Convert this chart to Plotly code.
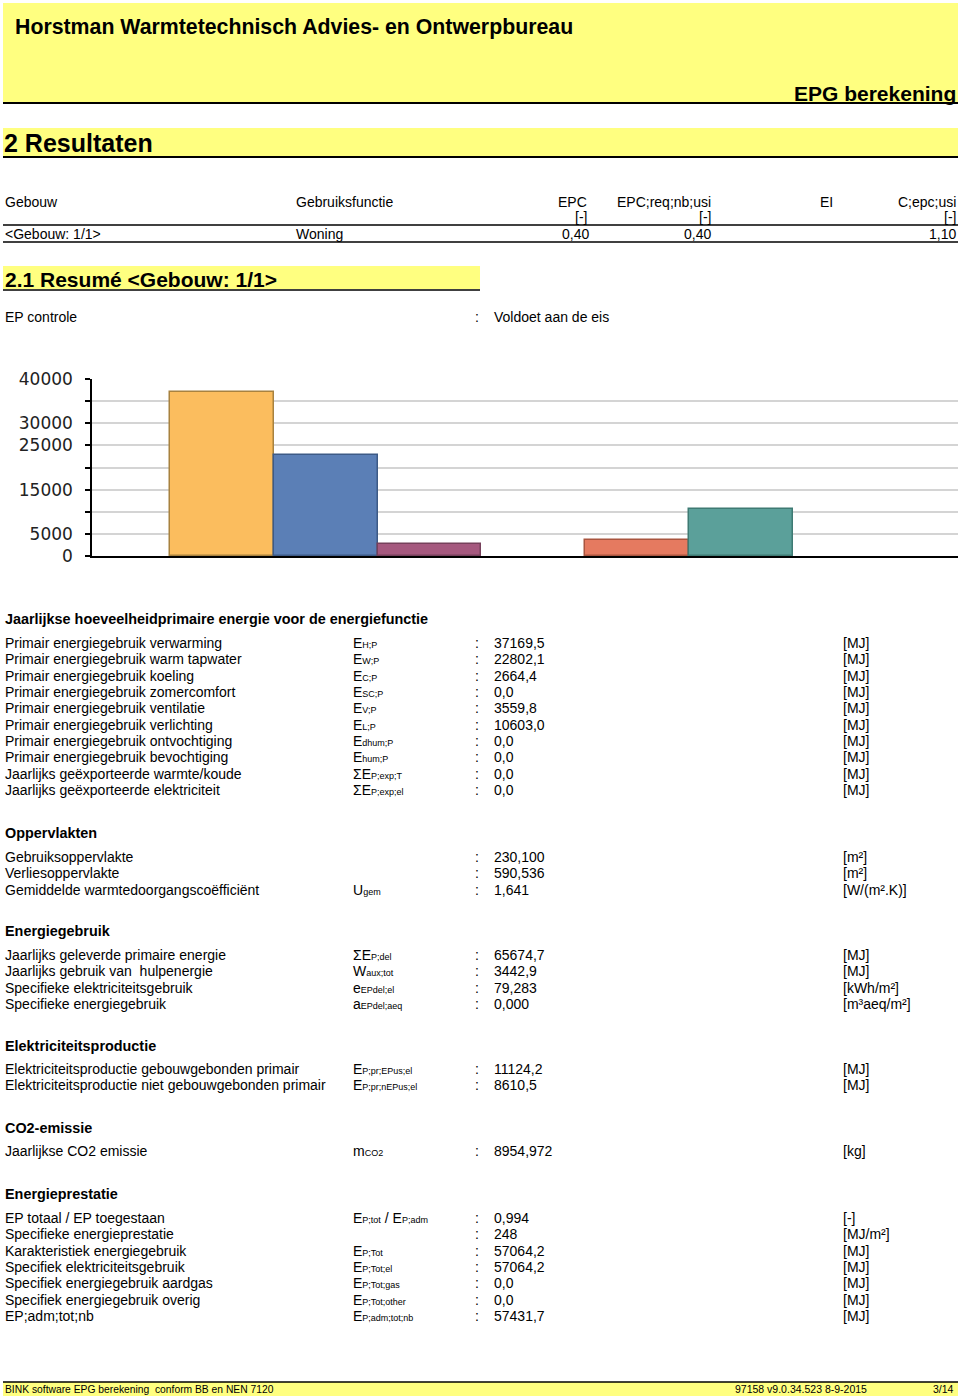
import plotly.graph_objects as go

W, H = 960, 1398

# ---------------- chart data ----------------
categories = ["Verwarming", "Warm tapwater", "Koeling", "Zomercomfort", "Ventilatie", "Verlichting"]
energy_mj = [37169.5, 22802.1, 2664.4, 0.0, 3559.8, 10603.0]
bar_fill = ["#FBBD5E", "#5B7FB6", "#A5587E", "rgba(0,0,0,0)", "#E57A60", "#5BA09A"]
bar_edge = ["#A8823F", "#3D5A86", "#76405B", "rgba(0,0,0,0)", "#A9553F", "#3E7A73"]
y_tick_vals = [0, 5000, 10000, 15000, 20000, 25000, 30000, 35000, 40000]
y_tick_text = ["0", "5000", "", "15000", "", "25000", "30000", "", "40000"]

# ---------------- page text data ----------------
table_headers = ["Gebouw", "Gebruiksfunctie", "EPC", "EPC;req;nb;usi", "EI", "C;epc;usi"]
table_units = ["", "", "[-]", "[-]", "", "[-]"]
table_row = ["<Gebouw: 1/1>", "Woning", "0,40", "0,40", "", "1,10"]

energy_labels = [
    "Primair energiegebruik verwarming",
    "Primair energiegebruik warm tapwater",
    "Primair energiegebruik koeling",
    "Primair energiegebruik zomercomfort",
    "Primair energiegebruik ventilatie",
    "Primair energiegebruik verlichting",
    "Primair energiegebruik ontvochtiging",
    "Primair energiegebruik bevochtiging",
    "Jaarlijks geëxporteerde warmte/koude",
    "Jaarlijks geëxporteerde elektriciteit",
]
energy_symbols = [("E", "H;P"), ("E", "W;P"), ("E", "C;P"), ("E", "SC;P"), ("E", "V;P"),
                  ("E", "L;P"), ("E", "dhum;P"), ("E", "hum;P"), ("ΣE", "P;exp;T"), ("ΣE", "P;exp;el")]
energy_values = ["37169,5", "22802,1", "2664,4", "0,0", "3559,8", "10603,0", "0,0", "0,0", "0,0", "0,0"]
energy_units = ["[MJ]"] * 10

area_labels = ["Gebruiksoppervlakte", "Verliesoppervlakte", "Gemiddelde warmtedoorgangscoëfficiënt"]
area_symbols = [None, None, ("U", "gem")]
area_values = ["230,100", "590,536", "1,641"]
area_units = ["[m²]", "[m²]", "[W/(m².K)]"]

use_labels = ["Jaarlijks geleverde primaire energie", "Jaarlijks gebruik van  hulpenergie",
              "Specifieke elektriciteitsgebruik", "Specifieke energiegebruik"]
use_symbols = [("ΣE", "P;del"), ("W", "aux;tot"), ("e", "EPdel;el"), ("a", "EPdel;aeq")]
use_values = ["65674,7", "3442,9", "79,283", "0,000"]
use_units = ["[MJ]", "[MJ]", "[kWh/m²]", "[m³aeq/m²]"]

prod_labels = ["Elektriciteitsproductie gebouwgebonden primair",
               "Elektriciteitsproductie niet gebouwgebonden primair"]
prod_symbols = [("E", "P;pr;EPus;el"), ("E", "P;pr;nEPus;el")]
prod_values = ["11124,2", "8610,5"]
prod_units = ["[MJ]", "[MJ]"]

co2_labels = ["Jaarlijkse CO2 emissie"]
co2_symbols = [("m", "CO2")]
co2_values = ["8954,972"]
co2_units = ["[kg]"]

perf_labels = ["EP totaal / EP toegestaan", "Specifieke energieprestatie", "Karakteristiek energiegebruik",
               "Specifiek elektriciteitsgebruik", "Specifiek energiegebruik aardgas",
               "Specifiek energiegebruik overig", "EP;adm;tot;nb"]
perf_symbols = [("E", "P;tot", "E", "P;adm"), None, ("E", "P;Tot"), ("E", "P;Tot;el"), ("E", "P;Tot;gas"),
                ("E", "P;Tot;other"), ("E", "P;adm;tot;nb")]
perf_values = ["0,994", "248", "57064,2", "57064,2", "0,0", "0,0", "57431,7"]
perf_units = ["[-]", "[MJ/m²]", "[MJ]", "[MJ]", "[MJ]", "[MJ]", "[MJ]"]

# ---------------- helpers ----------------
FONT = "Liberation Sans, Arial, sans-serif"
YELLOW = "#FFFF80"
annotations = []
shapes = []


def px(x):
    return x / W


def py(y):
    return 1 - y / H


def text(x, y, s, size=14, bold=False, anchor="left", family=FONT, color="#000000"):
    annotations.append(dict(
        x=px(x), y=py(y), xref="paper", yref="paper", text=s, showarrow=False,
        xanchor=anchor, yanchor="middle", borderpad=0,
        font=dict(family=family, size=size, color=color, weight="bold" if bold else "normal"),
    ))


def rect(x0, y0, x1, y1, color):
    shapes.append(dict(type="rect", xref="paper", yref="paper", x0=px(x0), x1=px(x1),
                       y0=py(y1), y1=py(y0), fillcolor=color, line=dict(width=0), layer="below"))


def hline(x0, x1, y, width=2, color="#000000"):
    shapes.append(dict(type="line", xref="paper", yref="paper", x0=px(x0), x1=px(x1),
                       y0=py(y), y1=py(y), line=dict(color=color, width=width)))


def sym(parts):
    out = ""
    for i in range(0, len(parts), 2):
        if i > 0:
            out += " / "
        out += parts[i] + "<span style='font-size:9px'>" + parts[i + 1] + "</span>"
    return out


def section(title, title_y, row_y0, labels, symbols, values, units, step=16.35):
    text(4, title_y, title, size=14.4, bold=True)
    for i, lab in enumerate(labels):
        y = row_y0 + i * step
        text(4, y, lab)
        if symbols[i] is not None:
            text(352, y, sym(symbols[i]))
        text(474, y, ":")
        text(493, y, values[i])
        text(842, y, units[i])


# ---------------- page header ----------------
rect(3, 3, 958, 102, YELLOW)
hline(3, 958, 103, 2)
text(14, 27, "Horstman Warmtetechnisch Advies- en Ontwerpbureau", size=21.3, bold=True)
text(957, 93, "EPG berekening", size=21, bold=True, anchor="right")

rect(3, 128, 958, 156, YELLOW)
hline(3, 958, 157, 2)
text(3, 143, "2 Resultaten", size=25, bold=True)

# results table
col_x = [4, 295, 588, 712, 834, 957]
col_anchor = ["left", "left", "right", "right", "right", "right"]
for i, h in enumerate(table_headers):
    text(col_x[i], 202, h, anchor=col_anchor[i])
    if table_units[i]:
        text(col_x[i], 217, table_units[i], anchor=col_anchor[i])
    if table_row[i]:
        xx = col_x[i] + (2 if i == 2 else 0)
        text(xx, 234, table_row[i], anchor=col_anchor[i])
hline(3, 958, 225, 1.5)
hline(3, 958, 242, 1.5)

rect(3, 266, 480, 289, YELLOW)
hline(3, 480, 290, 1.5)
text(4, 279, "2.1 Resumé &lt;Gebouw: 1/1&gt;", size=21, bold=True)

text(4, 317, "EP controle")
text(474, 317, ":")
text(493, 317, "Voldoet aan de eis")

# ---------------- sections ----------------
section("Jaarlijkse hoeveelheidprimaire energie voor de energiefunctie", 619, 643,
        energy_labels, energy_symbols, energy_values, energy_units)
section("Oppervlakten", 833, 857, area_labels, area_symbols, area_values, area_units)
section("Energiegebruik", 931, 955, use_labels, use_symbols, use_values, use_units)
section("Elektriciteitsproductie", 1046, 1069, prod_labels, prod_symbols, prod_values, prod_units)
section("CO2-emissie", 1128, 1151, co2_labels, co2_symbols, co2_values, co2_units)
section("Energieprestatie", 1194, 1218, perf_labels, perf_symbols, perf_values, perf_units)

# ---------------- footer ----------------
rect(3, 1382, 958, 1396, YELLOW)
hline(3, 958, 1382, 1.5)
text(4, 1389, "BINK software EPG berekening  conform BB en NEN 7120", size=10.3)
text(868, 1389, "97158 v9.0.34.523 8-9-2015", size=10.5, anchor="right")
text(955, 1389, "3/14", size=10.5, anchor="right")

# ---------------- chart ----------------
fig = go.Figure()
fig.add_trace(go.Bar(
    x=categories, y=energy_mj,
    marker=dict(color=bar_fill, line=dict(color=bar_edge, width=1.5)),
    width=1.0, showlegend=False, hoverinfo="skip",
))

unit_px = 103.8
first_center = 221.8
x_lo = -(first_center - 92) / unit_px
x_hi = (958 - first_center) / unit_px

fig.update_layout(
    width=W, height=H,
    margin=dict(l=0, r=0, t=0, b=0, autoexpand=False),
    paper_bgcolor="white", plot_bgcolor="white",
    bargap=0,
    xaxis=dict(domain=[px(92), px(958)], range=[x_lo, x_hi], showticklabels=False,
               ticks="", showgrid=False, zeroline=False, showline=True, automargin=False,
               linecolor="#000000", linewidth=2, fixedrange=True),
    yaxis=dict(domain=[py(556), py(379)], range=[0, 40000], tickvals=y_tick_vals,
               ticktext=y_tick_text, ticks="outside", ticklen=5, tickcolor="#000000",
               tickwidth=1.5, showline=True, linecolor="#000000", linewidth=1.5,
               showgrid=True, gridcolor="#D4D4D4", gridwidth=2, zeroline=False, automargin=False,
               tickfont=dict(family="DejaVu Sans, Verdana, sans-serif", size=17, color="#222222"),
               ticklabelstandoff=9, fixedrange=True),
    annotations=annotations,
    shapes=shapes,
)

fig.write_html("out.html", config={"displayModeBar": False},
               post_script="document.body.style.margin='0';")
